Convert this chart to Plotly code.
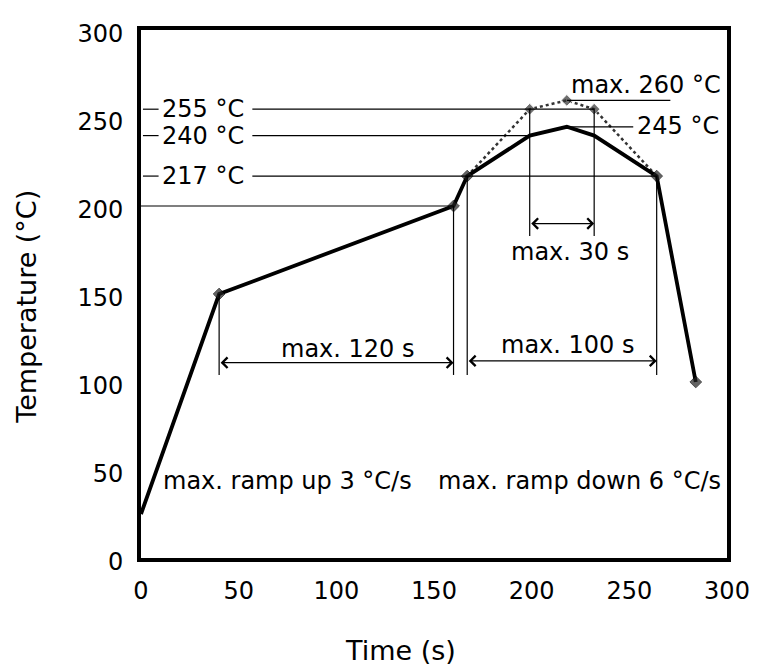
import plotly.graph_objects as go

# ---- data ----
time_solid = [0, 40, 160, 167, 199, 218, 232, 264, 284]
temp_solid = [25, 150, 200, 217, 240, 245, 240, 217, 100]
time_dotted = [167, 199, 218, 232, 264]
temp_dotted = [217, 255, 260, 255, 217]

x_ticks = [0, 50, 100, 150, 200, 250, 300]
y_ticks = [0, 50, 100, 150, 200, 250, 300]

level_labels = ["255 °C", "240 °C", "217 °C"]
level_values = [255, 240, 217]
level_ends = [232, 199, 264]

span_120 = [40, 160]
span_100 = [167, 264]
span_30 = [199, 232]
span_arrow_y = [111, 112, 190]
span_drop_bottom = 104
span30_bottom = 183

FONT = "DejaVu Sans, Arial, sans-serif"
FS = 24
FS_TITLE = 27

# page body has an 8px margin -> figure is offset by 8px
OFF = 8
W, H = 754, 663
L, R, T, B = 133, 30, 14, 113

fig = go.Figure()

fig.add_trace(go.Scatter(
    x=time_dotted, y=temp_dotted, mode="lines+markers",
    line=dict(color="#333333", width=2.5, dash="dot"),
    marker=dict(symbol="diamond", size=[0, 9, 9, 9, 0], color="#333333"),
    hoverinfo="skip", showlegend=False))

fig.add_trace(go.Scatter(
    x=time_solid, y=temp_solid, mode="lines+markers",
    line=dict(color="black", width=3.8),
    marker=dict(symbol="diamond", size=[0, 9, 9, 9, 0, 0, 0, 9, 9], color="#222222"),
    hoverinfo="skip", showlegend=False))

shapes = []
thin = dict(color="black", width=1.2)
for lv, end in zip(level_values, level_ends):
    shapes.append(dict(type="line", xref="x", yref="y", x0=1, x1=9, y0=lv, y1=lv, line=thin))
    shapes.append(dict(type="line", xref="x", yref="y", x0=57, x1=end, y0=lv, y1=lv, line=thin))
shapes.append(dict(type="line", xref="x", yref="y", x0=0, x1=time_solid[2], y0=temp_solid[2], y1=temp_solid[2], line=thin))
for xv, top in [(time_solid[1], temp_solid[1]), (time_solid[2], temp_solid[2]),
                (time_solid[3], temp_solid[3]), (time_solid[7], temp_solid[7])]:
    shapes.append(dict(type="line", xref="x", yref="y", x0=xv, x1=xv, y0=span_drop_bottom, y1=top, line=thin))
for xv in span_30:
    shapes.append(dict(type="line", xref="x", yref="y", x0=xv, x1=xv, y0=span30_bottom, y1=255, line=thin))
shapes.append(dict(type="line", xref="x", yref="y", x0=218, x1=271, y0=260, y1=260, line=thin))
shapes.append(dict(type="line", xref="x", yref="y", x0=218, x1=252, y0=245, y1=245, line=thin))

annotations = []
for (a, b), yy in zip([span_120, span_100, span_30], span_arrow_y):
    annotations.append(dict(x=b, y=yy, ax=a, ay=yy, xref="x", yref="y", axref="x", ayref="y",
                            text="", showarrow=True, arrowhead=4, arrowside="end+start",
                            arrowsize=1.7, arrowwidth=1.2, arrowcolor="black", standoff=0, startstandoff=0))

def txt(x, y, s, anchor="center"):
    annotations.append(dict(x=x, y=y, xref="x", yref="y", text=s, showarrow=False,
                            xanchor=anchor, yanchor="middle",
                            font=dict(family=FONT, size=FS, color="black")))

for lab, lv in zip(level_labels, level_values):
    txt(31.5, lv, lab)
txt(258.5, 268.5, "max. 260 °C")
txt(275, 245.5, "245 °C")
txt(106, 119, "max. 120 s")
txt(218.5, 121, "max. 100 s")
txt(219.5, 174, "max. 30 s")
txt(75, 43.6, "max. ramp up 3 °C/s")
txt(224.5, 43.6, "max. ramp down 6 °C/s")

pw = W - L - R
ph = H - T - B
def px_to_paper(px, py):
    fx, fy = px - OFF, py - OFF
    return (fx - L) / pw, (H - B - fy) / ph

tx, ty = px_to_paper(403, 652)
annotations.append(dict(x=tx, y=ty, xref="paper", yref="paper", text="Time (s)", showarrow=False,
                        xanchor="center", yanchor="middle",
                        font=dict(family=FONT, size=FS_TITLE, color="black")))
tx, ty = px_to_paper(26, 303)
annotations.append(dict(x=tx, y=ty, xref="paper", yref="paper", text="Temperature (°C)",
                        textangle=-90, showarrow=False, xanchor="center", yanchor="middle",
                        font=dict(family=FONT, size=FS_TITLE, color="black")))

fig.update_layout(
    width=W, height=H,
    margin=dict(l=L, r=R, t=T, b=B),
    paper_bgcolor="white", plot_bgcolor="white",
    shapes=shapes, annotations=annotations,
    font=dict(family=FONT, size=FS, color="black"),
)

fig.update_xaxes(range=[0, 300], tickvals=x_ticks, showgrid=False, zeroline=False,
                 showline=True, mirror=True, linewidth=4, linecolor="black",
                 ticks="outside", ticklen=8, tickcolor="rgba(0,0,0,0)",
                 ticklabeloverflow="allow",
                 tickfont=dict(family=FONT, size=FS, color="black"))
fig.update_yaxes(range=[0, 300], tickvals=y_ticks, showgrid=False, zeroline=False,
                 showline=True, mirror=True, linewidth=4, linecolor="black",
                 ticks="outside", ticklen=9, tickcolor="rgba(0,0,0,0)", ticklabelshift=4,
                 ticklabeloverflow="allow",
                 tickfont=dict(family=FONT, size=FS, color="black"))

fig.write_html("out.html")
